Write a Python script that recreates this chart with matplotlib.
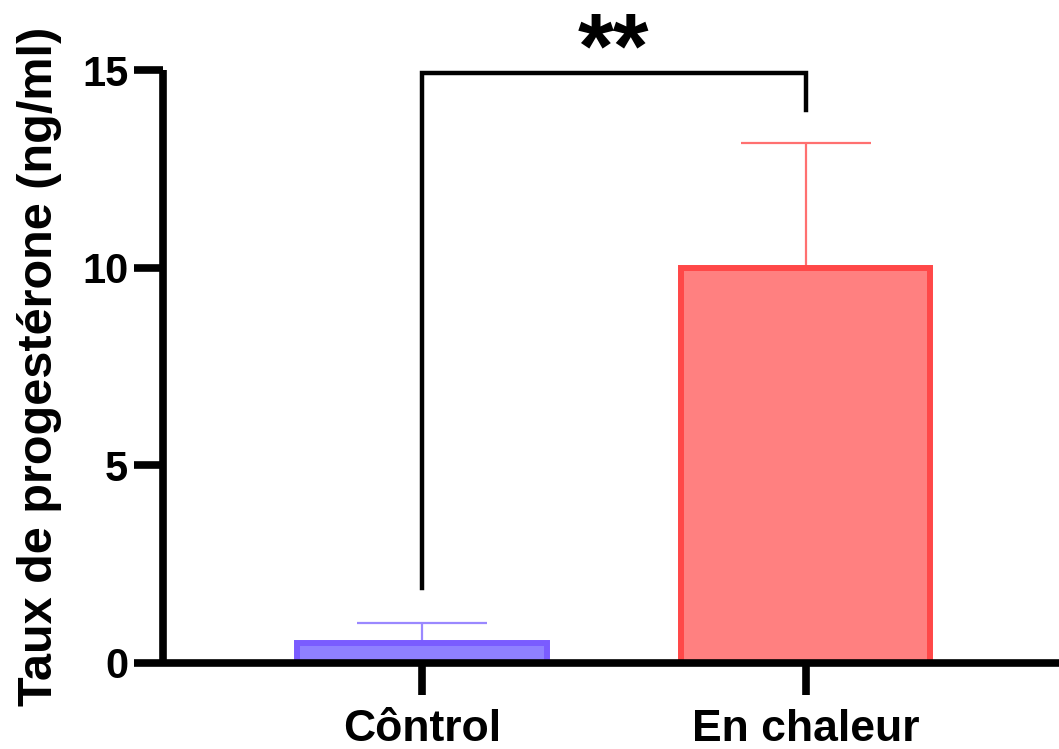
import matplotlib.pyplot as plt

groups = ["Côntrol", "En chaleur"]
means = [0.5, 10.0]
errors = [0.52, 3.15]
fill_colors = ["#8f80ff", "#ff8080"]
edge_colors = ["#7a5cff", "#ff4848"]
err_colors = ["#9a88ff", "#ff7070"]
sig_label = "**"
bracket_top = 14.93
bracket_left_end = 1.9
bracket_right_end = 14.0

plt.rcParams['font.family'] = ['Liberation Sans', 'DejaVu Sans']
plt.rcParams['font.weight'] = 'bold'

fig = plt.figure(figsize=(10.59, 7.49), dpi=100)
ax = fig.add_axes([163 / 1059, 86 / 749, 1 - 163 / 1059, 593 / 749])

x = list(range(len(groups)))
for i in x:
    ax.bar(i, means[i], width=0.65, color=fill_colors[i],
           edgecolor=edge_colors[i], linewidth=4.3, zorder=2)
    ax.errorbar(i, means[i], yerr=[[0], [errors[i]]], fmt='none',
                ecolor=err_colors[i], elinewidth=1.6, capsize=47,
                capthick=1.6, zorder=1)

# significance bracket
ax.plot([0, 0, 1, 1],
        [bracket_left_end, bracket_top, bracket_top, bracket_right_end],
        color='black', lw=3.2, clip_on=False, solid_joinstyle='miter')
ax.text(0.5, 14.8, sig_label, ha='center', va='baseline',
        fontsize=66, fontweight='bold', clip_on=False)

ax.set_xlim(-0.674, 1.66)
ax.set_ylim(0, 15)
ax.set_yticks([0, 5, 10, 15])
ax.set_xticks(x)
ax.set_xticklabels(groups, fontsize=32, fontweight='bold')
ax.tick_params(axis='y', labelsize=30, width=5.5, length=21, pad=4)
ax.tick_params(axis='x', width=5.5, length=23, pad=10)
for lbl in ax.get_yticklabels():
    lbl.set_fontweight('bold')

ax.set_ylabel("Taux de progestérone (ng/ml)", fontsize=35, fontweight='bold')
ax.yaxis.set_label_coords(-0.1127, 0.5)

for side in ['top', 'right']:
    ax.spines[side].set_visible(False)
for side in ['left', 'bottom']:
    ax.spines[side].set_linewidth(5.5)
    ax.spines[side].set_capstyle('butt')

fig.savefig("out.png", dpi=100)
